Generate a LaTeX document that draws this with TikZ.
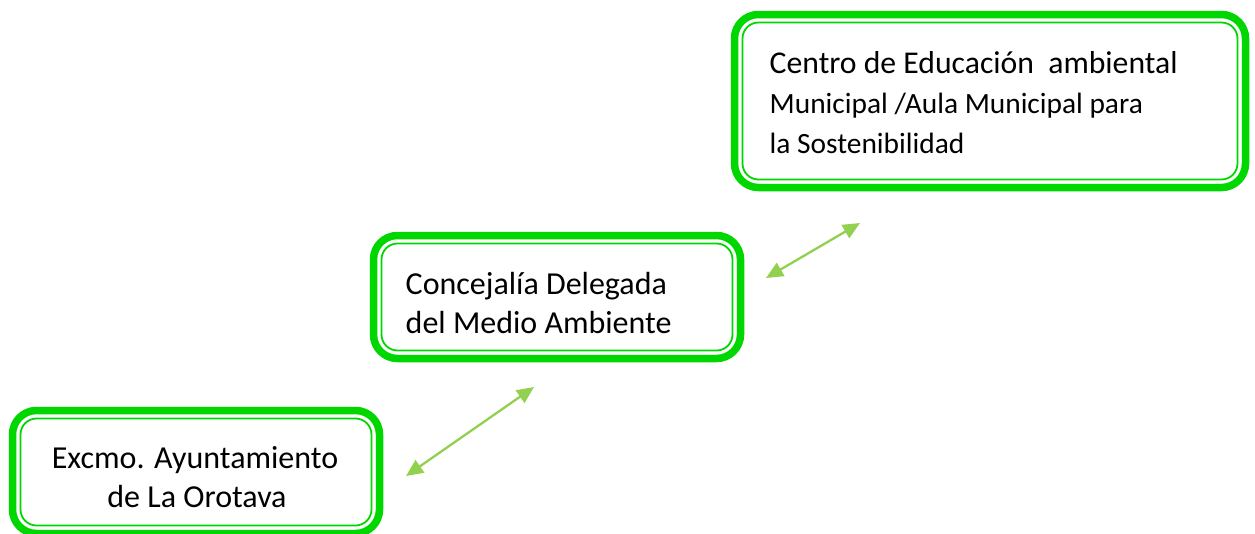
\documentclass[tikz,border=0pt]{standalone}
\usepackage{fontspec}
\setmainfont{Carlito}
\usetikzlibrary{arrows.meta,calc}
\definecolor{boxgreen}{RGB}{0,214,0}
\definecolor{arrowgreen}{RGB}{146,208,80}
\tikzset{
  boxouter/.style={draw=boxgreen, line width=7.5pt, rounded corners=24pt, outer sep=0pt, inner sep=0pt, fill=white},
  boxinner/.style={draw=boxgreen, line width=1.8pt, rounded corners=16pt},
  bigtext/.style={inner sep=0pt, font=\fontsize{32}{39}\selectfont},
  titletext/.style={inner sep=0pt, font=\fontsize{31.7}{39}\selectfont},
  smalltext/.style={inner sep=0pt, font=\fontsize{29.4}{36}\selectfont},
  linkarrow/.style={draw=arrowgreen, line width=2.3pt, {Triangle[length=17pt,width=15pt]}-{Triangle[length=17pt,width=15pt]}}
}
\begin{document}
\begin{tikzpicture}[x=1pt,y=-1pt]
\useasboundingbox (0,0) rectangle (1255,533);
\fill[white] (0,0) rectangle (1255,533);
% boxes
\node[boxouter, minimum width=511pt, minimum height=173pt] (b1) at (990,101) {};
\node[boxouter, minimum width=367pt, minimum height=123pt] (b2) at (557,297) {};
\node[boxouter, minimum width=367pt, minimum height=123pt] (b3) at (196,472) {};
\foreach \b in {b1,b2,b3}{
  \draw[boxinner] ($(\b.north west)+(8,8)$) rectangle ($(\b.south east)+(-8,-8)$);
}
% texts
\node[titletext, anchor=base west] (t1a) at (769.5,73) {Centro de Educación\ \ ambiental};
\node[smalltext, anchor=base west] (t1b) at (769.5,113) {Municipal /Aula Municipal para};
\node[smalltext, anchor=base west] (t1c) at (769.5,153) {la Sostenibilidad};
\node[bigtext, anchor=base west] (t2a) at (405.5,294) {Concejalía Delegada};
\node[bigtext, anchor=base west] (t2b) at (405.5,333) {del Medio Ambiente};
\node[bigtext, anchor=base] (t3a) at (195,468) {Excmo. Ayuntamiento};
\node[bigtext, anchor=base] (t3b) at (197,507) {de La Orotava};
% arrows
\coordinate (a1s) at (406,476);
\coordinate (a1e) at (534,387);
\coordinate (a2s) at (766,278);
\coordinate (a2e) at (860,223);
\draw[linkarrow] (a1s) -- (a1e);
\draw[linkarrow] (a2s) -- (a2e);
\end{tikzpicture}
\end{document}
